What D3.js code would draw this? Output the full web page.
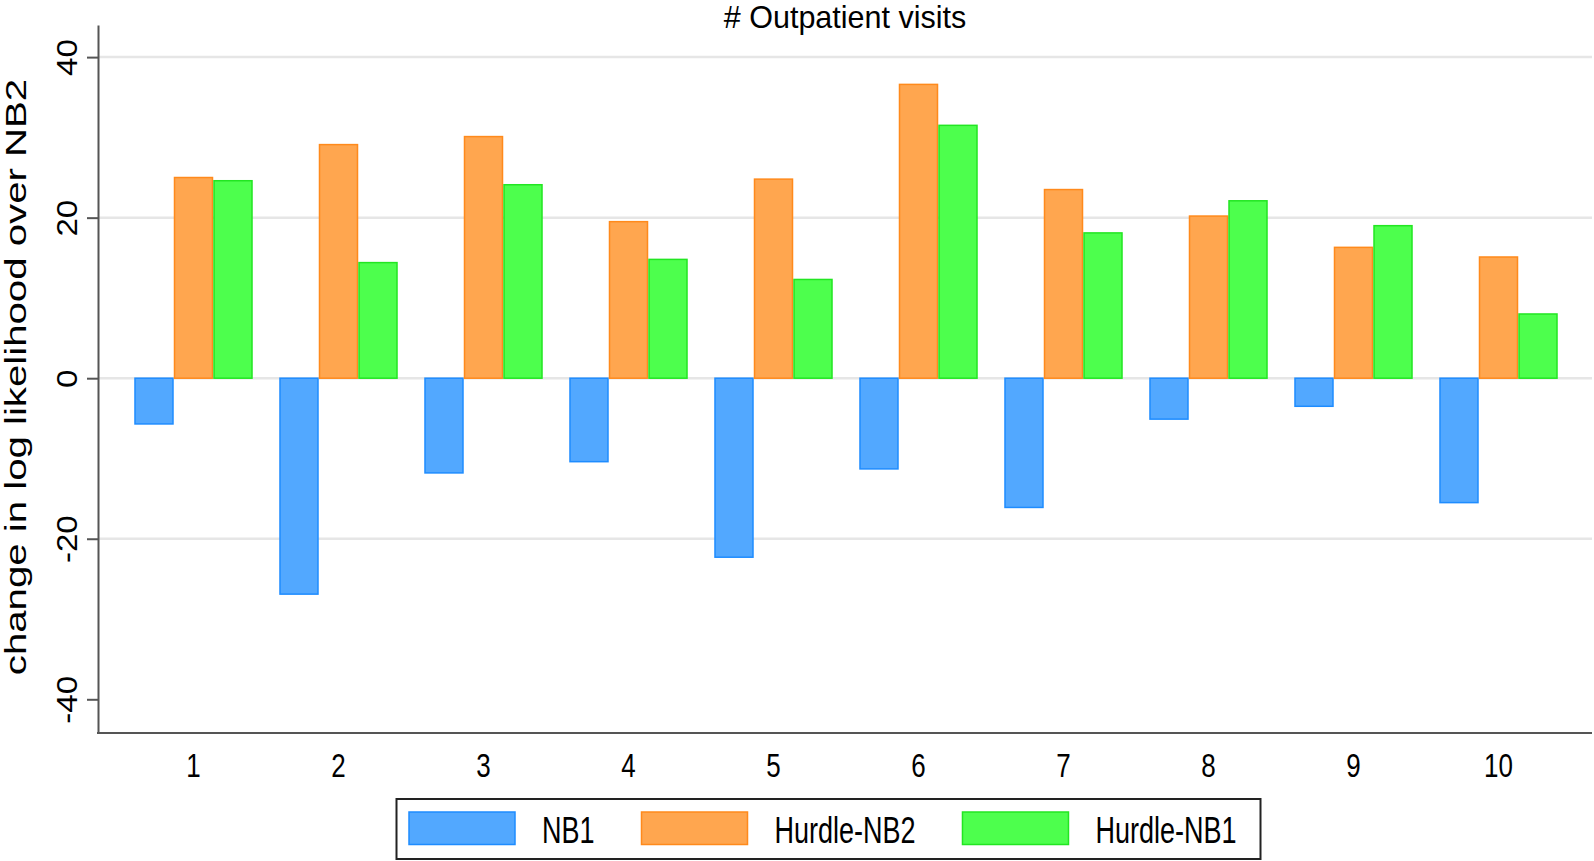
<!DOCTYPE html>
<html>
<head>
<meta charset="utf-8">
<script src="https://cdn.jsdelivr.net/npm/d3@7"></script>
<style>
  body { margin: 0; background: #fff; }
  svg text { font-family: "Liberation Sans", Arial, sans-serif; fill: #000; }
</style>
</head>
<body>
<svg id="chart" width="1594" height="861"></svg>
<script>
// データ
const categories = ["1", "2", "3", "4", "5", "6", "7", "8", "9", "10"];
const seriesNames = ["NB1", "Hurdle-NB2", "Hurdle-NB1"];
const nb1 = [-5.7, -26.9, -11.8, -10.4, -22.3, -11.3, -16.1, -5.1, -3.5, -15.5];
const hurdleNb2 = [25.0, 29.1, 30.1, 19.5, 24.8, 36.6, 23.5, 20.2, 16.3, 15.1];
const hurdleNb1 = [24.6, 14.4, 24.1, 14.8, 12.3, 31.5, 18.1, 22.1, 19.0, 8.0];
const yTicks = [-40, -20, 0, 20, 40];
const gridTicks = [-20, 0, 20, 40];

const seriesValues = [nb1, hurdleNb2, hurdleNb1];
const fills = ["#52a8ff", "#ffa64f", "#4dff4d"];
const strokes = ["#1e8cff", "#ff8a1c", "#22e622"];

// 系列ごとの値を表に組み立てる
const rows = categories.map((c, i) => ({
    cat: c,
    vals: seriesNames.map((s, j) => ({ key: s, idx: j, value: seriesValues[j][i] }))
}));

const svg = d3.select("#chart");

const plotLeft = 98, plotRight = 1592, plotTop = 25, plotBottom = 733;

// スケール
const y = d3.scaleLinear().domain([-44.2, 44]).range([plotBottom, plotTop]);
const x0 = d3.scaleBand().domain(categories).range([121, 1571]).padding(0);
const x1 = d3.scaleBand().domain(seriesNames).range([0, x0.bandwidth()])
    .paddingInner(0).paddingOuter(0.335);

// グリッド線
svg.append("g")
    .selectAll("line")
    .data(gridTicks)
    .join("line")
    .attr("x1", plotLeft)
    .attr("x2", plotRight)
    .attr("y1", d => y(d))
    .attr("y2", d => y(d))
    .attr("stroke", "#e6e6e6")
    .attr("stroke-width", 2.5);

// 棒
svg.append("g")
    .selectAll("g")
    .data(rows)
    .join("g")
    .attr("transform", d => `translate(${x0(d.cat)},0)`)
    .selectAll("rect")
    .data(d => d.vals)
    .join("rect")
    .attr("x", d => x1(d.key) + 0.75)
    .attr("width", x1.bandwidth() - 1.5)
    .attr("y", d => y(Math.max(0, d.value)))
    .attr("height", d => Math.abs(y(d.value) - y(0)))
    .attr("fill", d => fills[d.idx])
    .attr("stroke", d => strokes[d.idx])
    .attr("stroke-width", 1.5);

// Y軸（ハイフンのマイナス記号）
const yAxis = svg.append("g")
    .attr("transform", `translate(${plotLeft},0)`)
    .call(d3.axisLeft(y).tickValues(yTicks).tickFormat(d => String(d)).tickSize(11).tickSizeOuter(0));
yAxis.select(".domain").attr("stroke", "#555").attr("stroke-width", 2);
yAxis.selectAll(".tick line").attr("stroke", "#555").attr("stroke-width", 2);
yAxis.selectAll(".tick text")
    .attr("x", 0).attr("y", 0).attr("dy", 0)
    .attr("text-anchor", "middle")
    .attr("transform", "translate(-21,0) rotate(-90) scale(1.14,1)")
    .style("font-size", "29px");

// X軸
svg.append("line")
    .attr("x1", plotLeft - 1)
    .attr("x2", plotRight)
    .attr("y1", plotBottom)
    .attr("y2", plotBottom)
    .attr("stroke", "#555")
    .attr("stroke-width", 2);

const xAxis = svg.append("g")
    .attr("transform", `translate(0,${plotBottom})`)
    .call(d3.axisBottom(x0).tickSize(0));
xAxis.select(".domain").remove();
xAxis.selectAll(".tick text")
    .attr("y", 34.1).attr("dy", 0)
    .attr("transform", "scale(1,1.29)")
    .style("font-size", "26px");

// タイトル
svg.append("text")
    .attr("x", (plotLeft + plotRight) / 2)
    .attr("y", 28)
    .attr("text-anchor", "middle")
    .style("font-size", "30.5px")
    .text("# Outpatient visits");

// Y軸ラベル
svg.append("text")
    .attr("text-anchor", "middle")
    .attr("transform", "translate(26,377) rotate(-90) scale(1.34,1)")
    .style("font-size", "30px")
    .text("change in log likelihood over NB2");

// 凡例
const legend = svg.append("g");
legend.append("rect")
    .attr("x", 396.5)
    .attr("y", 799)
    .attr("width", 864)
    .attr("height", 60)
    .attr("fill", "#fff")
    .attr("stroke", "#222")
    .attr("stroke-width", 2);

let lx = 409;
seriesNames.forEach((s, i) => {
    legend.append("rect")
        .attr("x", lx)
        .attr("y", 812)
        .attr("width", 106)
        .attr("height", 32.5)
        .attr("fill", fills[i])
        .attr("stroke", strokes[i])
        .attr("stroke-width", 1.5);
    const t = legend.append("text")
        .attr("transform", `translate(${lx + 133},843) scale(1,1.4)`)
        .style("font-size", "27px")
        .text(s);
    const w = t.node().getComputedTextLength();
    lx = lx + 133 + w + 47;
});
</script>
</body>
</html>
